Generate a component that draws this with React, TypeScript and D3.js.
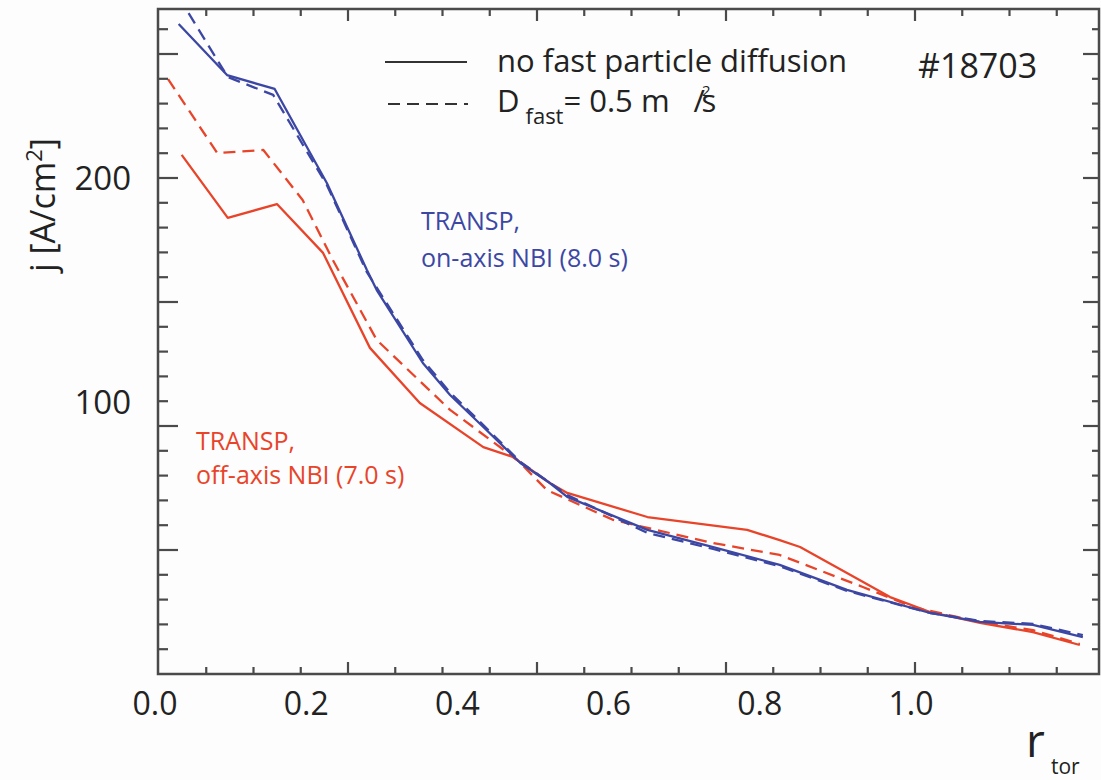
import React from 'react';
import * as d3 from 'd3';

// r_tor values and current density j [A/cm^2]
const blueSolidR = [0.026, 0.09, 0.153, 0.222, 0.275, 0.288, 0.349, 0.385, 0.429, 0.478, 0.517, 0.54, 0.646, 0.733, 0.821, 0.91, 1.02, 1.086, 1.156, 1.222];
const blueSolidJ = [262.1, 241.5, 235.9, 198.0, 162.9, 154.8, 125.4, 112.5, 99.6, 85.1, 77.0, 71.4, 58.1, 51.2, 44.0, 33.9, 24.6, 21.0, 19.8, 14.9];

const blueDashR = [0.026, 0.091, 0.151, 0.222, 0.275, 0.349, 0.385, 0.429, 0.478, 0.54, 0.646, 0.733, 0.821, 0.91, 1.02, 1.086, 1.156, 1.222];
const blueDashJ = [273.0, 240.7, 233.5, 197.2, 162.0, 126.6, 113.5, 100.4, 85.5, 72.2, 56.9, 50.4, 43.5, 33.5, 24.6, 21.4, 20.2, 15.7];

const redSolidR = [0.03, 0.091, 0.156, 0.217, 0.279, 0.345, 0.429, 0.468, 0.517, 0.54, 0.646, 0.778, 0.821, 0.848, 0.91, 0.967, 1.02, 1.086, 1.156, 1.218];
const redSolidJ = [209.3, 183.9, 189.5, 169.8, 131.5, 109.3, 91.5, 87.5, 77.0, 73.0, 63.3, 58.1, 54.0, 51.2, 40.7, 31.0, 25.0, 20.6, 16.9, 11.7];

const redDashR = [0.012, 0.077, 0.138, 0.19, 0.23, 0.288, 0.385, 0.474, 0.513, 0.601, 0.733, 0.821, 0.931, 0.997, 1.086, 1.156, 1.218];
const redDashJ = [239.9, 210.1, 211.3, 191.1, 166.9, 134.7, 106.5, 86.3, 74.2, 62.1, 52.8, 48.0, 35.1, 27.0, 21.0, 17.7, 12.1];

const xTickLabels = [0.0, 0.2, 0.4, 0.6, 0.8, 1.0];
const yTickLabels = [100, 200];

const BLUE = '#3c47a4';
const RED = '#e8442a';
const AXIS = '#4a4a4a';
const FONT = '"Open Sans", "Noto Sans", sans-serif';

const W = 1101;
const H = 780;
const frame = { left: 158, right: 1099, top: 9, bottom: 674 };

export default function App() {
  const x = d3.scaleLinear().domain([0, 1]).range([159, 915]);
  const y = d3.scaleLinear().domain([0, 200]).range([674, 178]);
  const xMax = x.invert(frame.right);
  const yMax = y.invert(frame.top);

  const line = d3
    .line<[number, number]>()
    .x((d) => x(d[0]))
    .y((d) => y(d[1]))
    .curve(d3.curveLinear);

  const zip = (rs: number[], js: number[]) => rs.map((r, i) => [r, js[i]] as [number, number]);

  const series = [
    { pts: zip(redSolidR, redSolidJ), color: RED, dash: undefined as string | undefined },
    { pts: zip(redDashR, redDashJ), color: RED, dash: '12,7' },
    { pts: zip(blueSolidR, blueSolidJ), color: BLUE, dash: undefined },
    { pts: zip(blueDashR, blueDashJ), color: BLUE, dash: '12,7' },
  ];

  const xTicks = d3.range(0, xMax, 0.0625);
  const yTicks = d3.range(0, yMax, 10);
  const isMajorX = (v: number) => Math.abs(v / 0.25 - Math.round(v / 0.25)) < 1e-6;
  const isMajorY = (v: number) => Math.abs(v / 50 - Math.round(v / 50)) < 1e-6;

  return (
    <svg
      width={W}
      height={H}
      style={{ position: 'absolute', left: 0, top: 0, background: '#fdfdfd' }}
      fontFamily={FONT}
    >
      <defs>
        <clipPath id="plotClip">
          <rect x={frame.left} y={frame.top} width={frame.right - frame.left} height={frame.bottom - frame.top} />
        </clipPath>
      </defs>

      {/* curves */}
      <g clipPath="url(#plotClip)">
        {series.map((s, i) => (
          <path
            key={i}
            d={line(s.pts) || ''}
            fill="none"
            stroke={s.color}
            strokeWidth={2.3}
            strokeDasharray={s.dash}
            strokeLinejoin="round"
          />
        ))}
      </g>

      {/* frame */}
      <rect
        x={frame.left}
        y={frame.top}
        width={frame.right - frame.left}
        height={frame.bottom - frame.top}
        fill="none"
        stroke={AXIS}
        strokeWidth={2.5}
      />

      {/* x ticks bottom & top */}
      {xTicks.map((v, i) => {
        const px = x(v);
        const major = isMajorX(v);
        if (v === 0) return null;
        return (
          <g key={'xt' + i} stroke={AXIS} strokeWidth={2.2}>
            <line x1={px} x2={px} y1={frame.bottom} y2={frame.bottom - (major ? 12 : 7)} />
            <line x1={px} x2={px} y1={frame.top} y2={frame.top + (major ? 12 : 7)} />
          </g>
        );
      })}

      {/* y ticks left & right */}
      {yTicks.map((v, i) => {
        const py = y(v);
        const major = isMajorY(v);
        if (v === 0) return null;
        return (
          <g key={'yt' + i} stroke={AXIS} strokeWidth={2.2}>
            <line x1={frame.left} x2={frame.left + (major ? 20 : 10)} y1={py} y2={py} />
            <line x1={frame.right} x2={frame.right - (major ? 16 : 7)} y1={py} y2={py} />
          </g>
        );
      })}

      {/* x tick labels */}
      {xTickLabels.map((v) => (
        <text
          key={'xl' + v}
          x={x(v) - 4}
          y={715}
          textAnchor="middle"
          fontSize={32}
          fill="#222"
        >
          {v.toFixed(1)}
        </text>
      ))}

      {/* y tick labels */}
      {yTickLabels.map((v) => (
        <text
          key={'yl' + v}
          x={131}
          y={y(v) + (v === 100 ? -24 : 0)}
          dy="0.36em"
          textAnchor="end"
          fontSize={33}
          fill="#222"
        >
          {v}
        </text>
      ))}

      {/* axis titles */}
      <text
        transform="translate(55,205) rotate(-90)"
        textAnchor="middle"
        fontSize={34}
        fill="#222"
      >
        j [A/cm
        <tspan dy={-13} fontSize={22}>2</tspan>
        <tspan dy={13}>]</tspan>
      </text>
      <text x={1026} y={757} fontSize={46} fill="#222">r</text>
      <text x={1051} y={774} fontSize={21} fill="#222">tor</text>

      {/* legend */}
      <line x1={385} x2={467} y1={62} y2={62} stroke="#333" strokeWidth={2.2} />
      <line x1={388} x2={468} y1={104} y2={104} stroke="#333" strokeWidth={2.2} strokeDasharray="12,7" />
      <text x={497} y={72} fontSize={31} fill="#222">no fast particle diffusion</text>
      <text x={497} y={112} fontSize={31} fill="#222">
        D
        <tspan dx={6} dy={12} fontSize={22}>fast</tspan>
        <tspan dy={-12}>= 0.5 m</tspan>
        <tspan dx={24}>/</tspan>
        <tspan dx={-3} dy={-16} fontSize={15}>2</tspan>
        <tspan dx={-9} dy={16}>s</tspan>
      </text>
      <text x={918} y={78} fontSize={34} fill="#222">#18703</text>

      {/* annotations */}
      <text x={421} y={230} fontSize={25} fill={BLUE}>TRANSP,</text>
      <text x={421} y={267} fontSize={25} fill={BLUE}>on-axis NBI (8.0 s)</text>
      <text x={196} y={450} fontSize={25} fill={RED}>TRANSP,</text>
      <text x={196} y={484} fontSize={25} fill={RED}>off-axis NBI (7.0 s)</text>
    </svg>
  );
}
